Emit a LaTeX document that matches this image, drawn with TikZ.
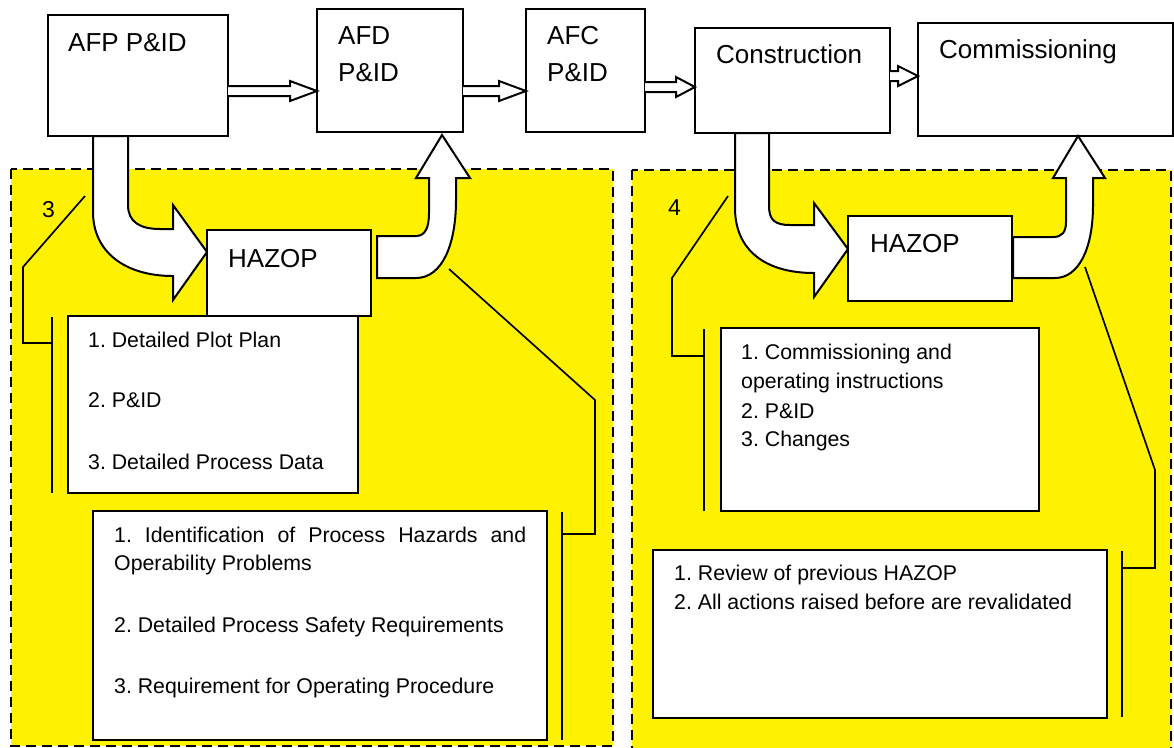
\documentclass[tikz,border=0pt]{standalone}
\usepackage{fontspec}
\setmainfont{Liberation Sans}
\usetikzlibrary{calc}
\frenchspacing

% box node: name, left, top, width, height (all in px units)
\newcommand\boxnode[5]{\node[box,minimum width=#4pt,minimum height=#5pt] (#1) at (#2,#3) {};}
% straight block arrow between two node anchors at height #3, head length #4
\newcommand\flowarrow[4]{%
  \draw[blockarrow] let \p1=(#1), \p2=(#2), \p3=(0,#3) in
    (\x1,\y3+5pt) -- (\x2-#4pt,\y3+5pt) -- (\x2-#4pt,\y3+10pt) -- (\x2,\y3)
    -- (\x2-#4pt,\y3-10pt) -- (\x2-#4pt,\y3-5pt) -- (\x1,\y3-5pt);}

\begin{document}
\frenchspacing
\begin{tikzpicture}[x=1pt,y=-1pt,
  box/.style={draw=black,line width=2pt,fill=white,inner sep=0pt,outer sep=0pt,anchor=north west},
  blockarrow/.style={draw=black,line width=2pt,fill=white,line join=miter},
  bracket/.style={draw=black,line width=1.7pt},
  zone/.style={fill=yellow,draw=black,line width=2.3pt,dash pattern=on 10pt off 6pt},
  big/.style={font=\fontsize{26}{30}\selectfont,inner sep=0pt,anchor=base west},
  small/.style={font=\fontsize{21.3}{28}\selectfont,inner sep=0pt,anchor=base west},
  num/.style={font=\fontsize{23}{28}\selectfont,inner sep=0pt,anchor=base west},
]
\useasboundingbox (0,0) rectangle (1174,747);

% yellow phase zones
\draw[zone] (11,169) rectangle (613,746);
\draw[zone] (632,170) rectangle (1171,770);

% top row of stages
\boxnode{afp}{48}{15}{180}{121}
\boxnode{afd}{317}{9}{146}{123}
\boxnode{afc}{526}{9}{119}{123}
\boxnode{cons}{695}{28}{195}{105}
\boxnode{comm}{918}{23}{255}{113}

\node[big] (tafp) at (68,51) {AFP P\&ID};
\node[big] (tafd1) at (338,44) {AFD};
\node[big] (tafd2) at (338,81) {P\&ID};
\node[big] (tafc1) at (547,44) {AFC};
\node[big] (tafc2) at (547,81) {P\&ID};
\node[big] (tcons) at (716,63) {Construction};
\node[big] (tcomm) at (939,58) {Commissioning};

\flowarrow{afp.east}{afd.west}{91}{27}
\flowarrow{afd.east}{afc.west}{91}{27}
\flowarrow{afc.east}{cons.west}{87}{19}
\flowarrow{cons.east}{comm.west}{76}{20}

% curved block arrows into and out of the HAZOP boxes
\draw[blockarrow] (93,136) -- (93,212) .. controls (93,252) and (125,276) .. (173,276)
  -- (173,300) -- (207,252) -- (173,205) -- (173,229) -- (160,229)
  .. controls (140,229) and (128,222) .. (128,205) -- (128,136) -- cycle;
\draw[blockarrow] (377,278) -- (416,278) .. controls (442,278) and (456,245) .. (456,200)
  -- (456,178) -- (470,178) -- (442,135) -- (416,178) -- (429,178) -- (429,213)
  .. controls (429,228) and (425,236) .. (416,236) -- (377,236) -- cycle;
\draw[blockarrow] (735,133) -- (735,208) .. controls (735,250) and (765,273) .. (814,273)
  -- (814,297) -- (848,249) -- (814,203) -- (814,225) -- (790,225)
  .. controls (775,225) and (769,220) .. (769,206) -- (769,133) -- cycle;
\draw[blockarrow] (1013,278) -- (1055,278) .. controls (1078,278) and (1093,250) .. (1093,205)
  -- (1093,178) -- (1105,178) -- (1078,136) -- (1053,178) -- (1066,178) -- (1066,222)
  .. controls (1066,232) and (1062,237) .. (1053,237) -- (1013,237) -- cycle;

% HAZOP boxes
\boxnode{hazL}{207}{230}{164}{86}
\boxnode{hazR}{848}{216}{164}{85}
\node[big] (thazL) at (228,267) {HAZOP};
\node[big] (thazR) at (870,252) {HAZOP};

% zone numbers
\node[num] (n3) at (42,217) {3};
\node[num] (n4) at (668,215) {4};

% inputs and outputs, phase 3
\boxnode{inL}{68}{316}{290}{177}
\node[small] (inL1) at (88,347) {1. Detailed Plot Plan};
\node[small] (inL2) at (88,407) {2. P\&ID};
\node[small] (inL3) at (88,469) {3. Detailed Process Data};

\boxnode{outL}{93}{511}{454}{229}
\node[small] (outL1) at (114,542) {\makebox[412pt][s]{1. Identification of Process Hazards and}};
\node[small] (outL1b) at (114,570) {Operability Problems};
\node[small] (outL2) at (114,632) {2. Detailed Process Safety Requirements};
\node[small] (outL3) at (114,693) {3. Requirement for Operating Procedure};

% inputs and outputs, phase 4
\boxnode{inR}{721}{328}{318}{183}
\node[small] (inR1) at (741,359) {1. Commissioning and};
\node[small] (inR1b) at (741,388) {operating instructions};
\node[small] (inR2) at (741,418) {2. P\&ID};
\node[small] (inR3) at (741,446) {3. Changes};

\boxnode{outR}{653}{550}{454}{168}
\node[small] (outR1) at (674,580) {1. Review of previous HAZOP};
\node[small] (outR2) at (674,609) {2. All actions raised before are revalidated};

% callout brackets
\draw[bracket] (85,196) -- (23,267) -- (23,343) -- (52,343);
\draw[bracket] (52,317) -- (52,493);
\draw[bracket] (449,269) -- (595,400) -- (595,534) -- (562,534);
\draw[bracket] (562,512) -- (562,740);
\draw[bracket] (728,196) -- (672,278) -- (672,356) -- (704,356);
\draw[bracket] (704,329) -- (704,511);
\draw[bracket] (1085,267) -- (1155,470) -- (1155,568) -- (1122,568);
\draw[bracket] (1122,551) -- (1122,717);
\end{tikzpicture}
\end{document}
